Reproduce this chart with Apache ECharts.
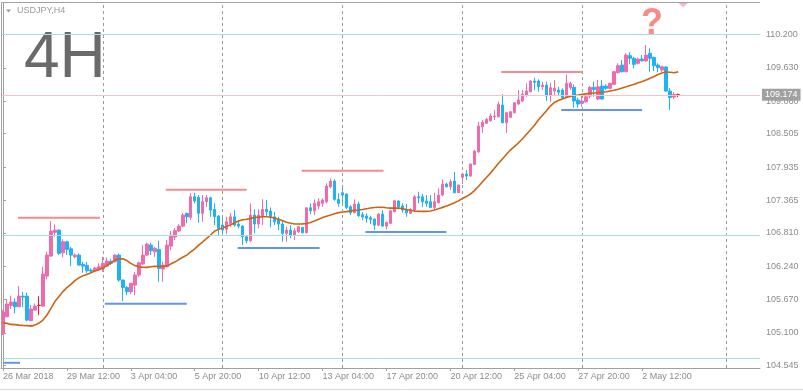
<!DOCTYPE html>
<html>
<head>
<meta charset="utf-8">
<script src="https://cdn.jsdelivr.net/npm/echarts@6/dist/echarts.min.js"></script>
<style>
html,body{margin:0;padding:0;background:#fff;}
#chart{width:803px;height:391px;}
</style>
</head>
<body>
<div id="chart"></div>
<script>
// ---- DATA ----
const symbolTitle = 'USDJPY,H4';
const bigLabel = '4H';
const tickLabels = ['26 Mar 2018','29 Mar 12:00','3 Apr 04:00','5 Apr 20:00','10 Apr 12:00','13 Apr 04:00','17 Apr 20:00','20 Apr 12:00','25 Apr 04:00','27 Apr 20:00','2 May 12:00'];
const tickEvery = 16;          // bars between time labels
const slotCount = 190;         // bar slots incl. chart shift
const yTicks = [110.200,109.630,109.060,108.505,107.935,107.365,106.810,106.240,105.670,105.100,104.545];
// candles: [open, close, low, high]
const candles = [
[105.096,105.455,105.061,105.489],[105.374,105.592,105.369,105.677],[105.569,105.626,105.506,105.734],[105.626,105.545,105.433,105.689],
[105.545,105.728,105.540,105.899],[105.728,105.711,105.535,105.797],[105.728,105.318,105.296,105.785],[105.306,105.506,105.300,105.574],
[105.489,105.557,105.480,105.604],[105.569,105.569,105.403,105.728],[105.557,106.105,105.545,106.229],[106.070,106.429,106.014,106.486],
[106.412,106.840,106.400,107.011],[106.818,106.857,106.742,106.954],[106.857,106.459,106.429,106.866],[106.469,106.657,106.390,106.698],
[106.657,106.527,106.429,106.674],[106.537,106.429,106.241,106.571],[106.400,106.429,106.373,106.459],[106.429,106.258,106.253,106.459],
[106.270,106.241,106.127,106.315],[106.253,106.161,106.117,106.315],[106.173,106.156,106.127,106.202],[106.161,106.207,106.151,106.229],
[106.185,106.229,106.161,106.288],[106.202,106.288,106.144,106.400],[106.241,106.327,106.229,106.390],[106.322,106.288,106.258,106.366],
[106.315,106.429,106.298,106.438],[106.429,106.002,105.973,106.459],[106.002,105.877,105.648,106.011],[105.877,105.802,105.745,105.899],
[105.802,105.946,105.763,105.951],[105.916,106.087,105.745,106.139],[106.087,106.298,106.058,106.315],[106.276,106.429,106.267,106.600],
[106.429,106.618,106.412,106.640],[106.600,106.503,106.429,106.640],[106.486,106.544,106.400,106.571],[106.527,106.202,105.973,106.674],
[106.190,106.258,105.973,106.315],[106.229,106.600,106.224,106.686],[106.583,106.771,106.515,106.840],[106.737,106.848,106.686,106.891],
[106.840,106.925,106.823,106.960],[106.925,107.113,106.908,107.148],[107.143,107.084,106.972,107.153],[107.074,107.426,107.028,107.485],
[107.426,107.353,107.314,107.495],[107.416,107.143,106.982,107.455],[107.143,107.341,106.999,107.455],[107.341,107.409,107.255,107.455],
[107.409,107.199,107.084,107.426],[107.211,107.084,106.942,107.314],[107.096,106.886,106.771,107.113],[106.942,106.857,106.801,107.113],
[106.869,106.999,106.789,107.084],[106.972,107.084,106.913,107.153],[107.084,106.942,106.913,107.199],[106.960,106.925,106.886,107.028],
[106.925,106.742,106.600,106.942],[106.742,106.674,106.630,106.771],[106.674,107.113,106.657,107.314],[107.113,106.960,106.801,107.211],
[106.960,107.113,106.886,107.211],[107.084,107.211,106.942,107.382],[107.211,107.170,107.084,107.370],[107.182,107.084,106.903,107.245],
[107.084,106.999,106.942,107.170],[107.028,106.960,106.857,107.084],[106.960,106.801,106.657,107.016],[106.801,106.857,106.657,106.913],
[106.857,106.771,106.720,106.942],[106.771,106.845,106.686,106.886],[106.828,106.913,106.806,106.925],[106.903,106.811,106.801,106.913],
[106.811,107.238,106.801,107.245],[107.238,107.187,107.131,107.314],[107.187,107.314,107.113,107.382],[107.267,107.341,107.211,107.399],
[107.314,107.370,107.255,107.399],[107.341,107.609,107.314,107.656],[107.597,107.695,107.570,107.741],[107.695,107.382,107.358,107.724],
[107.382,107.314,107.255,107.485],[107.495,107.455,107.284,107.626],[107.473,107.245,107.216,107.481],[107.255,107.153,107.113,107.284],
[107.153,107.302,107.143,107.382],[107.302,107.102,107.084,107.341],[107.119,107.079,107.028,107.165],[107.096,107.057,106.982,107.143],
[107.067,107.040,106.960,107.102],[107.045,106.942,106.857,107.057],[106.942,107.131,106.925,107.143],[107.131,106.925,106.913,107.199],
[106.925,106.989,106.869,106.999],[106.972,107.187,106.960,107.199],[107.170,107.358,107.160,107.370],[107.353,107.255,107.211,107.370],
[107.267,107.199,107.153,107.314],[107.211,107.153,107.084,107.302],[107.143,107.211,107.131,107.228],[107.199,107.426,107.170,107.455],
[107.426,107.409,107.314,107.512],[107.426,107.341,107.255,107.473],[107.353,107.314,107.255,107.455],[107.341,107.245,107.228,107.455],
[107.245,107.341,107.211,107.495],[107.324,107.455,107.314,107.570],[107.455,107.644,107.438,107.724],[107.644,107.597,107.587,107.666],
[107.597,107.683,107.541,107.724],[107.695,107.495,107.490,107.854],[107.495,107.626,107.490,107.635],[107.758,107.815,107.644,107.837],
[107.815,107.780,107.712,107.883],[107.780,107.986,107.768,107.994],[107.980,108.208,107.968,108.225],[108.196,108.635,108.179,108.709],
[108.623,108.699,108.521,108.738],[108.682,108.750,108.670,108.777],[108.726,108.806,108.709,108.853],[108.794,108.806,108.738,108.909],
[108.794,109.006,108.784,109.051],[108.994,108.692,108.682,109.183],[108.692,108.863,108.521,108.880],[108.784,108.880,108.772,108.892],
[108.863,109.034,108.853,109.041],[109.012,109.080,108.994,109.251],[109.063,109.177,109.051,109.251],[109.165,109.234,109.136,109.366],
[109.222,109.405,109.212,109.422],[109.405,109.383,109.251,109.461],[109.405,109.307,109.222,109.434],[109.307,109.336,109.251,109.393],
[109.336,109.148,109.063,109.393],[109.165,109.290,109.051,109.376],[109.234,109.280,109.165,109.422],[109.251,109.212,109.148,109.307],
[109.251,109.119,109.109,109.280],[109.136,109.366,109.119,109.519],[109.290,109.366,109.251,109.393],[109.297,109.063,108.948,109.348],
[109.080,109.012,108.948,109.119],[109.024,109.063,108.965,109.165],[109.051,109.136,109.034,109.165],[109.148,109.297,109.109,109.319],
[109.297,109.263,109.136,109.393],[109.097,109.307,109.080,109.422],[109.319,109.097,109.092,109.422],[109.319,109.280,109.251,109.348],
[109.280,109.366,109.263,109.376],[109.348,109.564,109.336,109.576],[109.547,109.667,109.537,109.708],[109.678,109.564,109.554,109.764],
[109.564,109.849,109.554,109.879],[109.838,109.793,109.690,109.896],[109.793,109.690,109.622,109.820],[109.708,109.781,109.690,109.803],
[109.781,109.752,109.735,109.849],[109.747,109.849,109.735,110.020],[109.879,109.793,109.564,109.964],[109.810,109.667,109.576,109.820],
[109.678,109.632,109.554,109.708],[109.593,109.649,109.564,109.667],[109.644,109.234,109.217,109.661],[109.234,109.123,108.909,109.285],
[109.131,109.174,109.097,109.217],[109.174,109.174,109.131,109.191]
];
// moving average, one value per bar
const ma = [
105.272,105.262,105.244,105.241,105.232,105.227,105.224,105.215,105.232,105.267,
105.318,105.403,105.518,105.634,105.720,105.805,105.874,105.928,105.993,106.041,
106.074,106.099,106.127,106.156,106.178,106.207,106.250,106.298,106.344,106.365,
106.365,106.335,106.288,106.250,106.228,106.221,106.219,106.229,106.236,106.236,
106.236,106.241,106.276,106.310,106.353,106.392,106.429,106.484,106.537,106.600,
106.657,106.715,106.777,106.840,106.869,106.898,106.920,106.949,106.982,107.011,
107.033,107.043,107.057,107.071,107.079,107.084,107.084,107.076,107.062,107.040,
107.016,106.990,106.973,106.960,106.960,106.963,106.970,106.985,107.014,107.040,
107.071,107.095,107.115,107.137,107.155,107.165,107.173,107.185,107.194,107.199,
107.208,107.221,107.233,107.242,107.247,107.247,107.238,107.233,107.233,107.233,
107.221,107.208,107.196,107.182,107.177,107.177,107.177,107.182,107.199,107.220,
107.245,107.267,107.296,107.324,107.356,107.396,107.430,107.473,107.532,107.601,
107.678,107.755,107.827,107.909,107.994,108.071,108.148,108.225,108.285,108.345,
108.413,108.490,108.567,108.644,108.738,108.815,108.892,108.977,109.037,109.071,
109.097,109.123,109.140,109.157,109.165,109.177,109.186,109.195,109.200,109.208,
109.213,109.222,109.234,109.246,109.263,109.285,109.306,109.328,109.350,109.374,
109.396,109.422,109.451,109.482,109.516,109.542,109.559,109.554,109.547,109.562
];
// resistance (red) and support (blue) segments: [fromBar, toBar, price]
const resistLevels = [[3.75,24.25,107.067],[40.75,61,107.546],[74.75,95.25,107.871],[124.75,145,109.559]];
const supportLevels = [[25.5,46,105.597],[58.75,79.25,106.549],[90.75,111,106.823],[139.75,160,108.909],[0,4.25,104.588]];
const hLines = [110.205, 106.771, 104.663];   // cyan horizontal lines
const weekLines = [25, 55, 85, 115, 145, 181]; // dashed separators (bar index)
const lastPrice = 109.174;
const shiftMarkBar = 170.25;

// ---- STYLE ----
const BULL = '#f06aae', BEAR = '#1eb2f6', DOJI = '#ff1a1a';
const GRAY = '#a0a0a0', LABEL = '#8c8c8c';
const FONT = 'Liberation Sans';

const categories = Array.from({length: slotCount}, (_, i) => String(i));
const isTick = (i) => i % tickEvery === 0 && (i / tickEvery) < tickLabels.length;

const chart = echarts.init(document.getElementById('chart'), null, {renderer: 'canvas'});

const candleData = candles.map(c => c[0] === c[1]
  ? {value: c, itemStyle: {color: DOJI, color0: DOJI, borderColor: DOJI, borderColor0: DOJI, borderColorDoji: DOJI}}
  : c);

const segSeries = [];
resistLevels.forEach(s => segSeries.push({type: 'line', xAxisIndex: 1, yAxisIndex: 0, silent: true, z: 5,
  symbol: 'none', data: [[s[0], s[2]], [s[1], s[2]]], lineStyle: {color: '#f48a92', width: 2}}));
supportLevels.forEach(s => segSeries.push({type: 'line', xAxisIndex: 1, yAxisIndex: 0, silent: true, z: 5,
  symbol: 'none', data: [[s[0], s[2]], [s[1], s[2]]], lineStyle: {color: '#6495ed', width: 2}}));

const refSeries = {
  type: 'line', xAxisIndex: 1, yAxisIndex: 0, silent: true, z: 1, symbol: 'none',
  data: [[-1, 50]],
  lineStyle: {width: 0},
  markLine: {
    silent: true, symbol: ['none', 'none'], animation: false,
    label: {show: false},
    data: [
      ...weekLines.map(x => ({xAxis: x, lineStyle: {color: '#9a9a9a', type: [3, 3], width: 1}})),
      ...hLines.map(y => ({yAxis: y, lineStyle: {color: '#a9dede', type: 'solid', width: 1}})),
      {yAxis: lastPrice, lineStyle: {color: '#f4c4cc', type: 'solid', width: 1},
       label: {show: true, position: 'end', distance: 2, formatter: () => lastPrice.toFixed(3),
               backgroundColor: GRAY, color: '#ffffff', padding: [2, 3, 1, 3], fontSize: 9, fontFamily: FONT}}
    ]
  }
};

const option = {
  animation: false,
  backgroundColor: '#ffffff',
  textStyle: {fontFamily: FONT},
  grid: {left: 0, right: 43, top: 3, bottom: 23},
  xAxis: [
    {type: 'category', data: categories, boundaryGap: true,
     axisLine: {lineStyle: {color: GRAY, width: 1}},
     axisTick: {show: true, alignWithLabel: true, length: 3, interval: isTick, lineStyle: {color: GRAY}},
     axisLabel: {interval: isTick, formatter: (v, i) => tickLabels[i / tickEvery] || '',
                 align: 'left', margin: 4, color: LABEL, fontSize: 9, fontFamily: FONT},
     splitLine: {show: false}},
    {type: 'value', min: -0.5, max: slotCount - 0.5, show: false, gridIndex: 0}
  ],
  yAxis: [{
    type: 'value', position: 'right', min: 104.499, max: 110.739,
    axisLine: {show: true, lineStyle: {color: GRAY}},
    axisTick: {show: true, length: 3, customValues: yTicks, lineStyle: {color: GRAY}},
    axisLabel: {customValues: yTicks, formatter: v => v.toFixed(3), margin: 6, color: LABEL, fontSize: 9, fontFamily: FONT},
    splitLine: {show: false}
  }],
  series: [
    refSeries,
    {type: 'candlestick', name: 'USDJPY', xAxisIndex: 0, yAxisIndex: 0, z: 3, silent: true,
     barWidth: 3, data: candleData,
     itemStyle: {color: BULL, color0: BEAR, borderColor: BULL, borderColor0: BEAR, borderColorDoji: DOJI, borderWidth: 1}},
    {type: 'line', name: 'MA', xAxisIndex: 0, yAxisIndex: 0, z: 4, silent: true, symbol: 'none', data: ma,
     lineStyle: {color: '#cc6410', width: 1.6}},
    ...segSeries
  ],
  graphic: [
    {type: 'polyline', silent: true, z: 10, shape: {points: [[1.5, 368], [1.5, 2.5], [760, 2.5]]}, style: {stroke: GRAY, fill: null, lineWidth: 1}},
    {type: 'line', silent: true, shape: {x1: 0, y1: 389.5, x2: 803, y2: 389.5}, style: {stroke: '#dadada', lineWidth: 1}},
    {type: 'polygon', silent: true, shape: {points: [[6, 9.5], [11, 9.5], [8.5, 12.5]]}, style: {fill: '#9a9a9a'}},
    {type: 'text', silent: true, x: 17, y: 11, style: {text: symbolTitle, fill: '#9a9a9a', font: '9px "Liberation Sans"', textVerticalAlign: 'middle'}},
    {type: 'text', silent: true, x: 24, y: 59, style: {text: bigLabel, fill: '#6a6a6a', font: '64px "Liberation Sans"', textVerticalAlign: 'middle'}},
    {type: 'text', silent: true, x: 652, y: 24, style: {text: '?', fill: '#f98a86', font: 'bold 36px "Liberation Sans"', textAlign: 'center', textVerticalAlign: 'middle'}}
  ]
};
chart.setOption(option);

// chart-shift marker placed through the axis scale
const sx = chart.convertToPixel({xAxisIndex: 1}, shiftMarkBar);
chart.setOption({graphic: [
  ...option.graphic,
  {type: 'polygon', silent: true, shape: {points: [[sx - 4.5, 3], [sx + 4.5, 3], [sx, 7.5]]}, style: {fill: '#f5b8c4'}}
]});
</script>
</body>
</html>
